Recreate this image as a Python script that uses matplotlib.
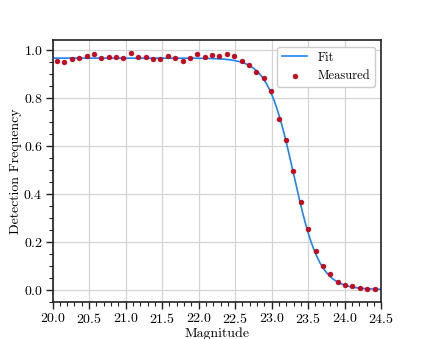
import matplotlib
matplotlib.use("Agg")
import matplotlib.pyplot as plt
import numpy as np
from matplotlib.ticker import MultipleLocator

# Measured detection frequency per magnitude bin
magnitudes = np.linspace(20.06, 24.41, 44)
measured = [
    0.954, 0.947, 0.961, 0.964, 0.975, 0.983, 0.967, 0.971, 0.971, 0.965,
    0.988, 0.968, 0.970, 0.961, 0.960, 0.972, 0.964, 0.951, 0.965, 0.980,
    0.968, 0.978, 0.972, 0.980, 0.975, 0.951, 0.937, 0.908, 0.884, 0.826,
    0.713, 0.624, 0.494, 0.365, 0.252, 0.160, 0.100, 0.064, 0.033, 0.019,
    0.014, 0.007, 0.003, 0.003,
]

# Logistic fit parameters
fit_amp = 0.965
fit_m50 = 23.30
fit_width = 0.178

plt.rcParams["font.family"] = "serif"
plt.rcParams["font.serif"] = ["cmr10", "DejaVu Serif"]
plt.rcParams["mathtext.fontset"] = "cm"
plt.rcParams["axes.formatter.use_mathtext"] = True

fig = plt.figure(figsize=(4.24, 3.39), dpi=100)
ax = fig.add_axes([0.124, 0.109, 0.775, 0.772])

m_fit = np.linspace(20.0, 24.5, 400)
f_fit = fit_amp / (1.0 + np.exp((m_fit - fit_m50) / fit_width))

ax.plot(m_fit, f_fit, color="#1f84f2", lw=1.2, label="Fit", zorder=2)
ax.scatter(magnitudes, measured, s=12, color="#d0021b", edgecolor="#a00818",
           linewidth=0.4, label="Measured", zorder=3)

ax.set_xlim(20.0, 24.5)
ax.set_ylim(-0.052, 1.039)
ax.xaxis.set_major_locator(MultipleLocator(0.5))
ax.xaxis.set_minor_locator(MultipleLocator(0.1))
ax.yaxis.set_major_locator(MultipleLocator(0.2))
ax.yaxis.set_minor_locator(MultipleLocator(0.05))

ax.grid(True, which="major", color="#d4d4d4", lw=0.9, zorder=0)
ax.set_axisbelow(True)
ax.tick_params(which="both", direction="out", top=False, right=False,
               labelsize=10, color="#222222", pad=2)
ax.tick_params(which="major", length=5, width=1.0)
ax.tick_params(which="minor", length=3, width=0.8)
for sp in ax.spines.values():
    sp.set_linewidth(1.2)
    sp.set_color("#222222")

ax.set_xlabel("Magnitude", fontsize=10, labelpad=1)
ax.set_ylabel("Detection Frequency", fontsize=10, labelpad=1)

ax.legend(loc="upper right", fontsize=9, frameon=True, fancybox=True,
          edgecolor="#cccccc", framealpha=1.0, handlelength=2.0)

fig.savefig("out.png", dpi=100)
